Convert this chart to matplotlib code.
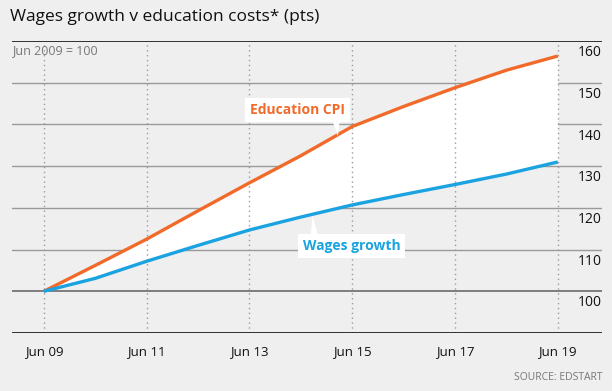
import numpy as np
import matplotlib.pyplot as plt

years = [2009, 2010, 2011, 2012, 2013, 2014, 2015, 2016, 2017, 2018, 2019]
education_cpi = [100, 106.2, 112.5, 119.3, 126.0, 132.5, 139.5, 144.3, 148.8, 153.0, 156.4]
wages = [100, 103.1, 107.2, 111.0, 114.7, 117.8, 120.7, 123.2, 125.6, 128.1, 131.0]

xtick_years = [2009, 2011, 2013, 2015, 2017, 2019]
xtick_labels = ["Jun 09", "Jun 11", "Jun 13", "Jun 15", "Jun 17", "Jun 19"]
ytick_vals = [100, 110, 120, 130, 140, 150, 160]

ORANGE = "#f26a2a"
BLUE = "#1aa3e0"
BG = "#efefef"

plt.rcParams['font.family'] = ['Open Sans', 'DejaVu Sans']

fig = plt.figure(figsize=(6.12, 3.91), dpi=100, facecolor=BG)
ax = fig.add_axes([12 / 612, 58 / 391, 590 / 612, 292 / 391])
ax.set_facecolor(BG)
ax.set_xlim(2008.38, 2019.86)
ax.set_ylim(90, 160)

for s in ax.spines.values():
    s.set_visible(False)
ax.axhline(160, color="#222222", lw=1.3, zorder=5)
ax.axhline(90, color="#222222", lw=1.3, zorder=5)
for v in [110, 120, 130, 140, 150]:
    ax.axhline(v, color="#9a9a9a", lw=1.0, zorder=1)
ax.axhline(100, color="#6a6a6a", lw=1.2, zorder=1)
for x in xtick_years:
    ax.axvline(x, color="#9a9a9a", lw=1.0, ls=(0, (1, 2.5)), zorder=3)

ax.fill_between(years, wages, education_cpi, color="white", lw=0, zorder=2)
ax.plot(years, education_cpi, color=ORANGE, lw=2.4, zorder=4, solid_capstyle="butt")
ax.plot(years, wages, color=BLUE, lw=2.4, zorder=4, solid_capstyle="butt")

ax.set_xticks(xtick_years)
ax.set_xticklabels(xtick_labels, fontsize=9.5, color="#111111")
ax.tick_params(axis="x", length=0, pad=9)
ax.set_yticks([])

for v in ytick_vals:
    ax.annotate(str(v), xy=(1.0, v), xycoords=("axes fraction", "data"),
                xytext=(0, -3), textcoords="offset points",
                ha="right", va="top", fontsize=10, color="#111111")

ax.annotate("Education CPI", xy=(2014.72, 137.2), xytext=(2013.94, 143.5),
            fontsize=10, fontweight="bold", color=ORANGE, ha="center", va="center", zorder=6,
            bbox=dict(boxstyle="square,pad=0.35", fc="white", ec="none"),
            arrowprops=dict(arrowstyle="wedge,tail_width=0.5", fc="white", ec="none",
                            relpos=(0.9, 0.0), shrinkA=0, shrinkB=0))
ax.annotate("Wages growth", xy=(2014.23, 118.2), xytext=(2014.99, 110.9),
            fontsize=10, fontweight="bold", color=BLUE, ha="center", va="center", zorder=6,
            bbox=dict(boxstyle="square,pad=0.35", fc="white", ec="none"),
            arrowprops=dict(arrowstyle="wedge,tail_width=0.5", fc="white", ec="none",
                            relpos=(0.12, 1.0), shrinkA=0, shrinkB=0))

fig.text(10 / 612, 1 - 17 / 391, "Wages growth v education costs* (pts)",
         fontsize=12.5, color="#111111", ha="left", va="center")
fig.text(12 / 612, 1 - 51 / 391, "Jun 2009 = 100", fontsize=9, color="#777777",
         ha="left", va="center")
fig.text(602 / 612, 1 - 377 / 391, "SOURCE: EDSTART", fontsize=7.5, color="#777777",
         ha="right", va="center")

fig.savefig("out.png", dpi=100, facecolor=BG)
